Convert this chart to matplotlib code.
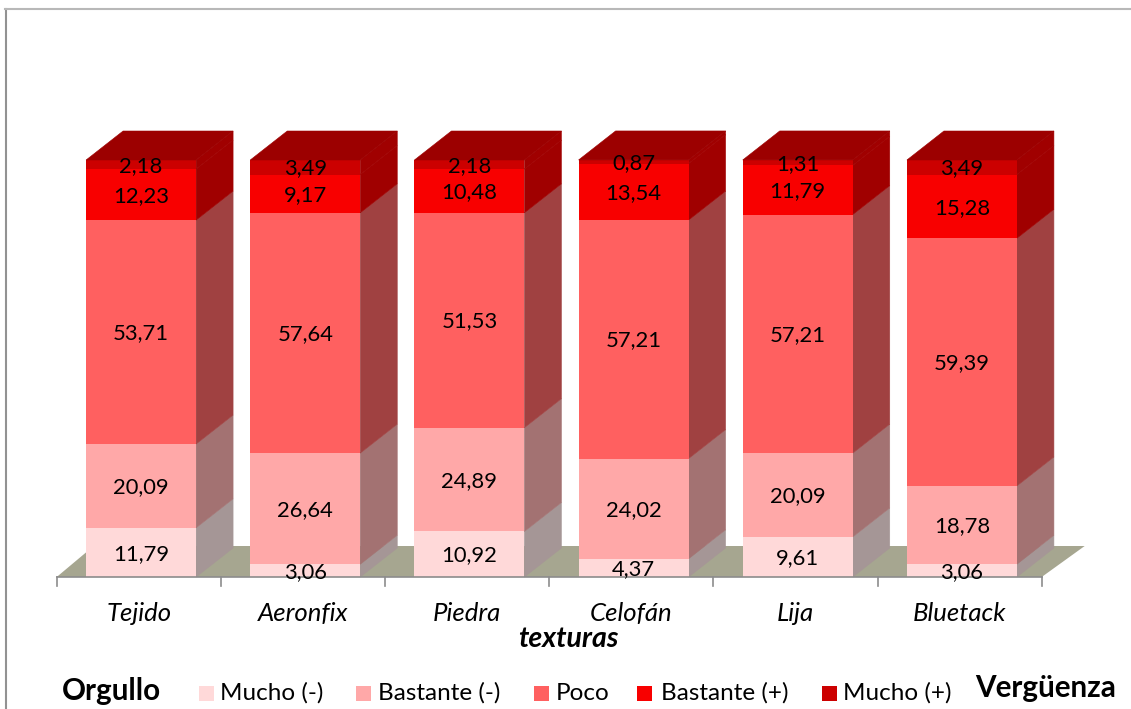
import matplotlib
matplotlib.use("Agg")
import matplotlib.pyplot as plt
from matplotlib.patches import Polygon, Rectangle

plt.rcParams['font.family'] = ['Lato', 'DejaVu Sans']

W, H = 1131, 709

texturas = ["Tejido", "Aeronfix", "Piedra", "Celofán", "Lija", "Bluetack"]
niveles = ["Mucho (-)", "Bastante (-)", "Poco", "Bastante (+)", "Mucho (+)"]

mucho_neg = [11.79, 3.06, 10.92, 4.37, 9.61, 3.06]
bastante_neg = [20.09, 26.64, 24.89, 24.02, 20.09, 18.78]
poco = [53.71, 57.64, 51.53, 57.21, 57.21, 59.39]
bastante_pos = [12.23, 9.17, 10.48, 13.54, 11.79, 15.28]
mucho_pos = [2.18, 3.49, 2.18, 0.87, 1.31, 3.49]
series = [mucho_neg, bastante_neg, poco, bastante_pos, mucho_pos]

front = ["#FFD9D9", "#FFA8A8", "#FF6060", "#F80000", "#CC0000"]
side = ["#A59696", "#A37272", "#A04141", "#A00000", "#A00000"]
top_col = "#9C0000"
floor_col = "#A6A690"

fig = plt.figure(figsize=(W / 100, H / 100), dpi=100)
ax = fig.add_axes([56.7 / W, 1 - 577 / H, (1041.7 - 56.7) / W, (577 - 160) / H])
ax.set_xlim(0, 6)
ax.set_ylim(0, 100)
ax.axis("off")

# depth of the fake 3d, in data units
dx = 37 / (985 / 6)
dy = 29 / 4.17
bw = 110 / (985 / 6)

# only top and left of the outer frame show in the picture
fig.add_artist(plt.Line2D([5.5 / W, 5.5 / W], [0, 1 - 9 / H], transform=fig.transFigure, color="#929292", lw=1.5))
fig.add_artist(plt.Line2D([5 / W, 1], [1 - 9 / H, 1 - 9 / H], transform=fig.transFigure, color="#B8B8B8", lw=1.5))

# floor
ax.add_patch(Polygon([(0, 0), (6, 0), (6 + 43 / (985 / 6), 31 / 4.17), (37 / (985 / 6), 31 / 4.17)],
                     fc=floor_col, ec="none", clip_on=False, zorder=1))

for i, name in enumerate(texturas):
    left = i + 0.5 - bw / 2 + 0.014
    right = left + bw
    bottom = 0
    for s, vals in enumerate(series):
        v = vals[i]
        top = bottom + v
        ax.add_patch(Polygon([(right, bottom), (right + dx, bottom + dy), (right + dx, top + dy), (right, top)],
                             fc=side[s], ec=side[s], lw=0.4, clip_on=False, zorder=2))
        ax.add_patch(Rectangle((left, bottom), bw, v, fc=front[s], ec="none", clip_on=False, zorder=3))
        ax.text(left + bw / 2, bottom + v / 2 - 0.3, f"{v:.2f}".replace(".", ","), ha="center", va="center",
                fontsize=15.8, color="black", zorder=5, clip_on=False)
        bottom = top
    ax.add_patch(Polygon([(left, bottom), (right, bottom), (right + dx, bottom + dy), (left + dx, bottom + dy)],
                         fc=top_col, ec=top_col, lw=0.4, clip_on=False, zorder=3))
    ax.text(i + 0.5, -8.8, name, ha="center", va="center", fontsize=18.5, style="italic", clip_on=False)

# axis line and ticks
ax.plot([0, 6], [0, 0], color="#8c8c8c", lw=1.2, clip_on=False, zorder=4)
for k in range(7):
    ax.plot([k, k], [0, -2.2], color="#8c8c8c", lw=1.2, clip_on=False, zorder=4)

fig.text(568 / W, 1 - 639 / H, "texturas", ha="center", va="center", fontsize=20.5, weight="bold", style="italic")
fig.text(111 / W, 1 - 691 / H, "Orgullo", ha="center", va="center", fontsize=21.3, weight="bold")
fig.text(1045.5 / W, 1 - 688 / H, "Vergüenza", ha="center", va="center", fontsize=21.3, weight="bold")

leg_x = [199, 356, 534, 637, 822]
leg_txt = [220, 378, 556, 661, 843]
for x, tx, name, c in zip(leg_x, leg_txt, niveles, front):
    fig.add_artist(Rectangle((x / W, 1 - 701 / H), 15 / W, 15 / H, transform=fig.transFigure, fc=c, ec="none"))
    fig.text(tx / W, 1 - 693 / H, name, ha="left", va="center", fontsize=17.5)

fig.savefig("out.png", dpi=100)
